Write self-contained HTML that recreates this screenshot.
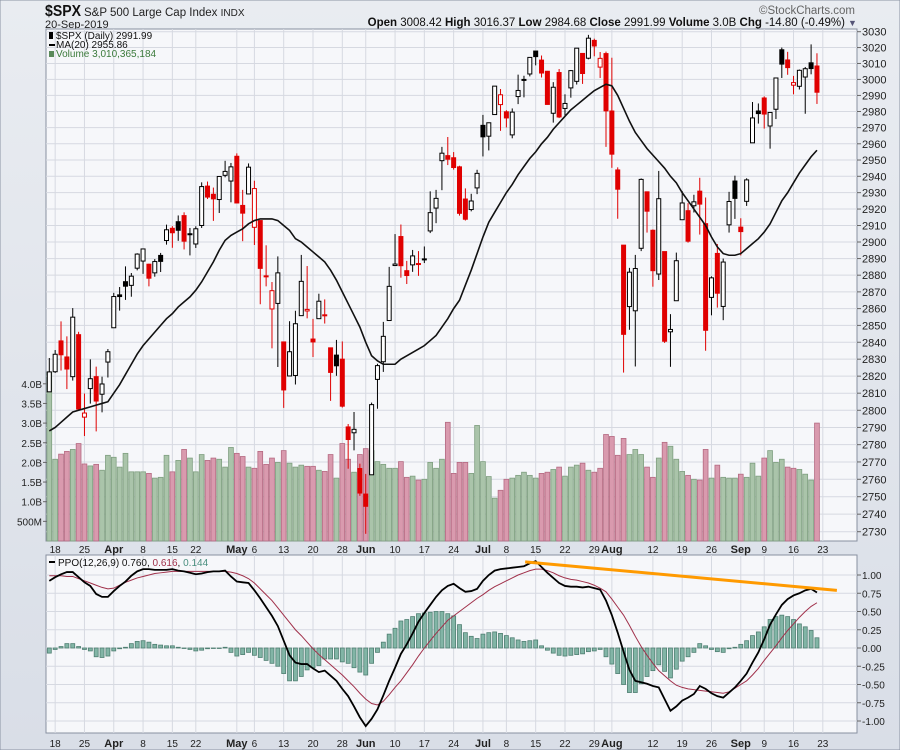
<!DOCTYPE html>
<html><head><meta charset="utf-8"><style>
html,body{margin:0;padding:0;background:#dfe3ea;}
svg{display:block;font-family:"Liberation Sans",sans-serif;}
</style></head><body>
<svg id="chart" width="900" height="750" viewBox="0 0 900 750">
<defs><linearGradient id="bg" x1="0" y1="0" x2="0" y2="1"><stop offset="0" stop-color="#e9ecf1"/><stop offset="1" stop-color="#d9dee7"/></linearGradient></defs>
<rect x="0" y="0" width="900" height="750" fill="url(#bg)" stroke="#8a93a3"/>
<text x="45" y="16" font-size="16" font-weight="bold" fill="#111" textLength="36" lengthAdjust="spacingAndGlyphs">$SPX</text>
<text x="84" y="16" font-size="11.5" fill="#222">S&amp;P 500 Large Cap Index <tspan font-size="10">INDX</tspan></text>
<text x="45" y="28" font-size="11" fill="#222">20-Sep-2019</text>
<text x="855" y="14" font-size="11.5" fill="#666" text-anchor="end">©StockCharts.com</text>
<text x="845" y="26" font-size="11.5" fill="#111" text-anchor="end"><tspan font-weight="bold">Open</tspan> 3008.42 <tspan font-weight="bold">High</tspan> 3016.37 <tspan font-weight="bold">Low</tspan> 2984.68 <tspan font-weight="bold">Close</tspan> 2991.99 <tspan font-weight="bold">Volume</tspan> 3.0B <tspan font-weight="bold">Chg</tspan> -14.80 (-0.49%)</text>
<text x="848" y="26" font-size="9" fill="#557">▼</text>
<rect x="46" y="29" width="811" height="512" fill="#f6f7fa" stroke="#8890a0"/>
<rect x="46" y="555" width="811" height="178" fill="#f6f7fa" stroke="#8890a0"/>
<g id="g-grid"></g><g id="g-vol"></g><g id="g-candles"></g><g id="g-ma"></g><g id="g-ppo"></g><g id="g-axes"></g>
<g>
<rect x="49" y="32" width="4" height="7" fill="#000"/>
<text x="56" y="39" font-size="10" fill="#111">$SPX (Daily) 2991.99</text>
<rect x="49" y="44" width="6" height="2" fill="#000"/>
<text x="56" y="48" font-size="10" fill="#111">MA(20) 2955.86</text>
<rect x="49" y="51" width="5" height="6" fill="#5a8a5a"/>
<text x="56" y="57" font-size="10" fill="#3b7a3b">Volume 3,010,365,184</text>
</g>
<g>
<rect x="49" y="561" width="6" height="2" fill="#000"/>
<text x="58" y="566" font-size="10" fill="#111">PPO(12,26,9) 0.760, <tspan fill="#a0304a">0.616</tspan>, <tspan fill="#4a8f7f">0.144</tspan></text>
</g>
</svg>
<script>
const opens=[2810.8,2822.6,2840.8,2831.3,2819.7,2844.5,2796.0,2812.7,2819.7,2809.4,2828.3,2848.6,2868.2,2876.1,2873.9,2884.2,2888.5,2886.6,2881.4,2891.9,2900.9,2908.3,2912.3,2916.0,2904.8,2898.8,2910.0,2934.0,2929.0,2925.8,2940.6,2937.1,2952.3,2922.2,2929.2,2908.9,2913.0,2879.6,2859.8,2863.1,2840.2,2820.1,2820.4,2855.8,2858.6,2841.9,2854.0,2856.1,2836.7,2832.4,2830.0,2790.3,2786.9,2766.2,2751.5,2762.6,2818.1,2828.5,2852.9,2885.8,2903.3,2882.7,2886.2,2886.8,2889.8,2906.7,2920.6,2949.6,2952.7,2951.4,2945.8,2926.1,2919.7,2932.9,2971.4,2964.7,2978.1,2984.3,2979.8,2965.5,2989.3,3000.0,3003.4,3017.8,3012.1,3005.1,2978.9,3004.3,2981.9,2994.7,2998.8,3016.3,3013.3,3024.5,3007.7,3016.2,2980.3,2943.9,2898.1,2861.2,2858.7,2896.2,2930.5,2907.1,2880.7,2894.2,2846.2,2864.7,2913.5,2919.0,2922.0,2930.9,2911.1,2866.7,2893.1,2861.3,2910.4,2937.1,2909.0,2924.7,2960.6,2980.3,2988.4,2971.0,2981.4,3018.6,3012.2,2996.4,2995.7,3001.5,3010.4,3008.4];
const highs=[2830.7,2835.4,2852.4,2843.5,2860.3,2846.2,2809.8,2829.9,2825.6,2819.7,2836.0,2869.4,2872.9,2885.3,2881.3,2893.2,2895.9,2886.9,2889.7,2893.4,2910.5,2909.6,2916.1,2918.0,2908.5,2909.5,2936.3,2936.8,2933.1,2939.9,2949.5,2948.2,2954.1,2931.7,2947.9,2937.3,2913.0,2898.0,2875.9,2891.3,2840.2,2852.5,2858.7,2892.2,2885.5,2853.9,2868.9,2865.5,2836.7,2841.4,2840.5,2792.0,2799.0,2769.0,2763.1,2804.5,2827.3,2852.1,2885.0,2904.8,2910.6,2888.6,2895.2,2894.5,2897.3,2930.8,2931.7,2958.1,2964.2,2954.9,2946.5,2932.6,2929.3,2944.0,2977.9,2973.2,2995.8,2994.0,2980.8,2981.9,3003.0,3002.3,3013.9,3017.8,3015.0,3005.3,2998.3,3006.5,2990.7,3005.9,3019.6,3016.3,3028.0,3025.6,3017.2,3017.4,3013.6,2945.5,2898.1,2884.4,2892.2,2938.7,2930.5,2907.6,2943.3,2894.2,2856.7,2893.6,2931.0,2923.6,2928.7,2939.1,2927.0,2879.3,2898.8,2890.0,2930.5,2940.4,2914.4,2938.8,2985.9,2985.0,2989.4,2979.4,3000.9,3020.0,3017.3,3002.2,3006.2,3007.8,3022.0,3016.4];
const lows=[2810.8,2821.9,2823.3,2812.4,2817.4,2800.5,2785.0,2803.9,2787.7,2798.8,2819.2,2848.6,2858.8,2865.2,2867.1,2882.9,2880.8,2873.3,2879.1,2881.9,2898.4,2896.5,2900.7,2895.5,2891.9,2896.4,2908.5,2926.1,2912.8,2917.6,2939.4,2924.1,2923.4,2900.5,2929.2,2898.2,2862.6,2873.3,2836.4,2825.4,2801.4,2820.1,2815.1,2855.8,2854.2,2831.3,2854.0,2851.1,2805.5,2820.2,2801.6,2766.1,2776.7,2750.5,2728.8,2762.6,2800.9,2822.5,2852.9,2885.5,2878.5,2874.7,2882.0,2879.6,2887.3,2905.4,2911.4,2931.5,2946.9,2944.1,2916.0,2913.0,2918.6,2929.1,2952.2,2955.9,2978.0,2968.0,2970.1,2963.4,2984.6,2988.8,3001.9,3008.8,3001.2,2984.3,2973.1,2975.9,2976.7,2988.6,2996.8,2997.2,3012.6,3014.5,3000.9,2958.1,2945.2,2914.1,2822.1,2847.4,2825.7,2894.5,2905.7,2873.1,2877.1,2839.6,2825.5,2864.7,2913.5,2899.6,2917.9,2904.5,2835.0,2856.0,2860.6,2853.1,2905.7,2914.0,2891.9,2921.9,2960.6,2972.5,2969.4,2957.0,2975.3,3000.9,3002.9,2990.7,2993.7,2978.6,3003.2,2984.7];
const closes=[2822.5,2832.9,2832.6,2824.2,2854.9,2800.7,2798.4,2818.5,2805.4,2815.4,2834.4,2867.2,2867.2,2873.4,2879.4,2892.7,2895.8,2878.2,2888.2,2888.3,2907.4,2905.6,2907.1,2900.5,2905.0,2908.0,2933.7,2927.3,2926.2,2939.9,2943.0,2945.8,2923.7,2917.5,2945.6,2932.5,2884.1,2879.4,2870.7,2881.4,2811.9,2834.4,2851.0,2876.3,2859.5,2840.2,2864.4,2856.3,2822.2,2826.1,2802.4,2783.0,2788.9,2752.1,2744.5,2803.3,2826.2,2843.5,2873.3,2886.7,2885.7,2879.8,2891.6,2887.0,2889.7,2917.8,2926.5,2954.2,2950.5,2945.4,2917.4,2913.8,2924.9,2941.8,2964.3,2973.0,2995.8,2990.4,2976.0,2979.6,2993.1,2999.9,3013.8,3014.3,3004.0,2984.4,2995.1,2976.6,2985.0,3005.5,3019.6,3003.7,3025.9,3021.0,3013.2,2980.4,2953.6,2932.1,2844.7,2881.8,2884.0,2938.1,2918.7,2882.7,2926.3,2840.6,2847.6,2888.7,2923.7,2900.5,2924.4,2923.0,2847.1,2878.4,2869.2,2887.9,2924.6,2926.5,2906.3,2937.8,2976.0,2978.7,2978.4,2979.4,3000.9,3009.6,3007.4,2998.0,3005.7,3006.7,3006.8,2992.0];
const volumes=[4.3,2.08,2.21,2.28,2.33,2.48,1.96,1.91,1.95,1.80,2.18,2.13,1.88,2.23,1.76,1.76,1.76,1.72,1.60,1.62,2.18,1.76,2.05,2.33,2.11,1.76,2.20,2.05,2.11,2.08,1.88,2.38,2.23,2.15,1.88,1.85,2.28,1.95,2.11,2.00,2.30,1.98,1.88,1.93,1.90,1.90,1.80,1.77,2.20,1.60,2.48,2.08,1.75,2.20,2.35,2.30,2.02,1.95,1.85,1.85,2.02,1.62,1.65,1.55,1.57,2.00,1.85,2.08,3.02,1.72,2.00,2.00,1.72,2.94,2.02,1.64,1.09,1.29,1.57,1.60,1.67,1.75,1.67,1.60,1.72,1.75,1.82,1.88,1.65,1.88,1.93,1.98,1.80,1.75,1.85,2.71,2.66,2.18,2.61,2.20,2.33,2.20,1.88,1.62,2.11,2.51,2.41,2.08,1.77,1.67,1.57,1.55,2.33,1.60,1.93,1.62,1.60,1.60,1.70,1.62,1.98,1.65,2.11,2.30,2.00,2.08,1.88,1.85,1.82,1.70,1.55,3.00];
const ma20=[2788,2790,2793,2796,2799,2800,2801,2802,2803,2804,2805,2810,2815,2821,2827,2833,2838,2842,2846,2850,2854,2857,2861,2864,2867,2871,2876,2882,2888,2895,2901,2904,2906,2908,2911,2913,2914,2914,2914,2913,2910,2907,2902,2900,2897,2894,2891,2888,2883,2877,2870,2863,2856,2849,2840,2832,2829,2827,2827,2827,2830,2832,2834,2836,2838,2841,2844,2849,2854,2860,2865,2874,2883,2893,2903,2912,2918,2924,2930,2935,2941,2946,2951,2955,2960,2964,2969,2973,2977,2981,2984,2987,2990,2993,2995,2997,2996,2990,2982,2974,2967,2962,2957,2953,2949,2945,2940,2936,2930,2925,2920,2915,2910,2903,2897,2893,2892,2892,2893,2896,2899,2902,2906,2911,2918,2925,2930,2936,2942,2947,2952,2956];
const ppo=[0.92,0.97,1.01,1.04,1.04,0.97,0.90,0.85,0.74,0.70,0.70,0.78,0.85,0.91,0.99,1.05,1.08,1.08,1.07,1.07,1.07,1.08,1.06,1.05,1.03,1.01,1.02,1.04,1.05,1.05,1.06,0.98,0.91,0.90,0.89,0.79,0.68,0.56,0.44,0.30,0.10,-0.10,-0.20,-0.22,-0.22,-0.28,-0.33,-0.31,-0.38,-0.45,-0.56,-0.66,-0.80,-0.95,-1.07,-0.97,-0.84,-0.65,-0.45,-0.27,-0.08,0.05,0.20,0.36,0.48,0.59,0.70,0.79,0.85,0.88,0.82,0.77,0.78,0.81,0.92,1.00,1.06,1.08,1.09,1.10,1.11,1.12,1.16,1.19,1.11,1.03,0.96,0.89,0.85,0.84,0.84,0.83,0.84,0.82,0.80,0.65,0.45,0.21,-0.05,-0.30,-0.45,-0.47,-0.49,-0.52,-0.54,-0.70,-0.86,-0.80,-0.72,-0.68,-0.63,-0.52,-0.56,-0.62,-0.66,-0.68,-0.61,-0.54,-0.45,-0.35,-0.20,-0.06,0.12,0.32,0.46,0.59,0.67,0.72,0.75,0.79,0.81,0.76];
const signal=[0.99,0.99,0.99,0.98,0.98,0.95,0.92,0.89,0.86,0.83,0.81,0.82,0.86,0.90,0.93,0.96,0.98,1.00,1.02,1.03,1.04,1.05,1.05,1.05,1.05,1.05,1.05,1.05,1.05,1.05,1.05,1.04,1.02,0.99,0.95,0.89,0.81,0.73,0.65,0.55,0.45,0.35,0.25,0.17,0.08,-0.01,-0.09,-0.16,-0.23,-0.30,-0.37,-0.45,-0.53,-0.62,-0.70,-0.76,-0.78,-0.73,-0.64,-0.54,-0.45,-0.34,-0.23,-0.11,0.00,0.10,0.20,0.29,0.38,0.44,0.50,0.56,0.62,0.68,0.73,0.79,0.84,0.88,0.92,0.96,1.00,1.03,1.06,1.08,1.08,1.06,1.03,0.99,0.96,0.94,0.93,0.91,0.89,0.86,0.82,0.77,0.67,0.56,0.45,0.31,0.16,0.02,-0.10,-0.21,-0.31,-0.38,-0.45,-0.51,-0.54,-0.56,-0.57,-0.58,-0.59,-0.60,-0.61,-0.62,-0.60,-0.55,-0.50,-0.45,-0.37,-0.28,-0.17,-0.07,0.03,0.14,0.24,0.33,0.42,0.50,0.57,0.62];
const trendIdx=[81.2,134.4];
const trendVal=[1.18,0.79];
const dateTickIdx=[1,6,11,16,21,25,32,35,40,45,50,54,59,64,69,74,78,83,88,93,96,103,108,113,118,122,127,132];
const dateTickLabels=["18","25","Apr","8","15","22","May","6","13","20","28","Jun","10","17","24","Jul","8","15","22","29","Aug","12","19","26","Sep","9","16","23"];
const priceTicks=[3030,3020,3010,3000,2990,2980,2970,2960,2950,2940,2930,2920,2910,2900,2890,2880,2870,2860,2850,2840,2830,2820,2810,2800,2790,2780,2770,2760,2750,2740,2730];
const volTicks=[4.0,3.5,3.0,2.5,2.0,1.5,1.0,0.5];
const volTickLabels=["4.0B","3.5B","3.0B","2.5B","2.0B","1.5B","1.0B","500M"];
const ppoTicks=[1.0,0.75,0.5,0.25,0,-0.25,-0.5,-0.75,-1.0];
const ppoTickLabels=["1.00","0.75","0.50","0.25","0.00","-0.25","-0.50","-0.75","-1.00"];

const NS="http://www.w3.org/2000/svg";
const K=500/Math.log(3030/2730);
function xOf(i){return 49.3+i*5.86;}
function yP(p){return 31.7+K*Math.log(3030/p);}
function yV(v){return 541-v*39.3;}
function yO(v){return 648-v*73;}
function mk(tag,attrs,parent){const e=document.createElementNS(NS,tag);for(const k in attrs)e.setAttribute(k,attrs[k]);parent.appendChild(e);return e;}
const gGrid=document.getElementById('g-grid'),gVol=document.getElementById('g-vol'),gC=document.getElementById('g-candles'),gMA=document.getElementById('g-ma'),gP=document.getElementById('g-ppo'),gA=document.getElementById('g-axes');

priceTicks.forEach(function(p){
  const y=yP(p);
  const l=mk('line',{x1:46,x2:857,y1:y,y2:y,stroke:'#d6d9e1','stroke-width':1},gGrid);
  
  
  mk('line',{x1:857,x2:861,y1:y,y2:y,stroke:'#666'},gA);
  const t=mk('text',{x:862,y:y+4,'font-size':11,fill:'#222'},gA);t.textContent=p;
  
  
});
ppoTicks.forEach(function(v,k){
  const y=yO(v);
  const l=mk('line',{x1:46,x2:857,y1:y,y2:y,stroke:'#d6d9e1'},gGrid);
  
  
  mk('line',{x1:857,x2:861,y1:y,y2:y,stroke:'#666'},gA);
  const t=mk('text',{x:862,y:y+4,'font-size':10,fill:'#222'},gA);t.textContent=ppoTickLabels[k];
  
  
});
volTicks.forEach(function(v,k){
  const y=yV(v);
  mk('line',{x1:43,x2:47,y1:y,y2:y,stroke:'#666'},gA);
  const t=mk('text',{x:42,y:y+4,'font-size':10,fill:'#222','text-anchor':'end'},gA);t.textContent=volTickLabels[k];
  
  
});
dateTickIdx.forEach(function(i,k){
  const x=xOf(i);
  if(x<857){
    const l1=mk('line',{x1:x,x2:x,y1:29,y2:541,stroke:'#d6d9e1'},gGrid);
    
    
    const l2=mk('line',{x1:x,x2:x,y1:555,y2:733,stroke:'#d6d9e1'},gGrid);
    
    
  }
  const bold=isNaN(parseInt(dateTickLabels[k]));
  [553,747].forEach(function(yy){
    const t=mk('text',{x:x,y:yy,'font-size':bold?11:10,'font-weight':bold?'bold':'normal',fill:'#222','text-anchor':'middle'},gA);
    t.textContent=dateTickLabels[k];
    
    
  });
});
volumes.forEach(function(v,i){
  const up=i===0||closes[i]>=closes[i-1];
  const y=yV(v);
  const r=mk('rect',{x:xOf(i)-2.4,y:Math.max(30,y),width:4.8,height:541-Math.max(30,y),fill:up?'#aac4aa':'#d99aae',stroke:up?'#7f9f80':'#b56a82','stroke-width':0.8},gVol);
  
  
});
closes.forEach(function(c,i){
  const o=opens[i],x=xOf(i);
  const up=i===0||c>=closes[i-1];
  const col=up?'#000':'#e00000';
  const w=mk('line',{x1:x,x2:x,y1:yP(highs[i]),y2:yP(lows[i]),stroke:col,'stroke-width':1},gC);
  
  
  const top=yP(Math.max(o,c)),bot=yP(Math.min(o,c));
  const b=mk('rect',{x:x-2,y:top,width:4,height:Math.max(1,bot-top),fill:c<o?col:'#ffffff',stroke:col,'stroke-width':1},gC);
  
  
});
const maPath=mk('polyline',{points:ma20.map(function(v,i){return xOf(i)+','+yP(v);}).join(' '),fill:'none',stroke:'#111','stroke-width':1.6},gMA);


ppo.forEach(function(v,i){
  const h=v-signal[i];const y0=yO(0),y1=yO(h);
  const r=mk('rect',{x:xOf(i)-2,y:Math.min(y0,y1),width:4,height:Math.max(0.5,Math.abs(y1-y0)),fill:'#82b5a6',stroke:'#4f7f72','stroke-width':0.8},gP);
  
  
});
const sig=mk('polyline',{points:signal.map(function(v,i){return xOf(i)+','+yO(v);}).join(' '),fill:'none',stroke:'#a0304a','stroke-width':1},gP);


const pl=mk('polyline',{points:ppo.map(function(v,i){return xOf(i)+','+yO(v);}).join(' '),fill:'none',stroke:'#000','stroke-width':1.8},gP);


const tl=mk('line',{x1:xOf(trendIdx[0]),y1:yO(trendVal[0]),x2:xOf(trendIdx[1]),y2:yO(trendVal[1]),stroke:'#ff9a00','stroke-width':3},gP);


</script>
</body></html>
